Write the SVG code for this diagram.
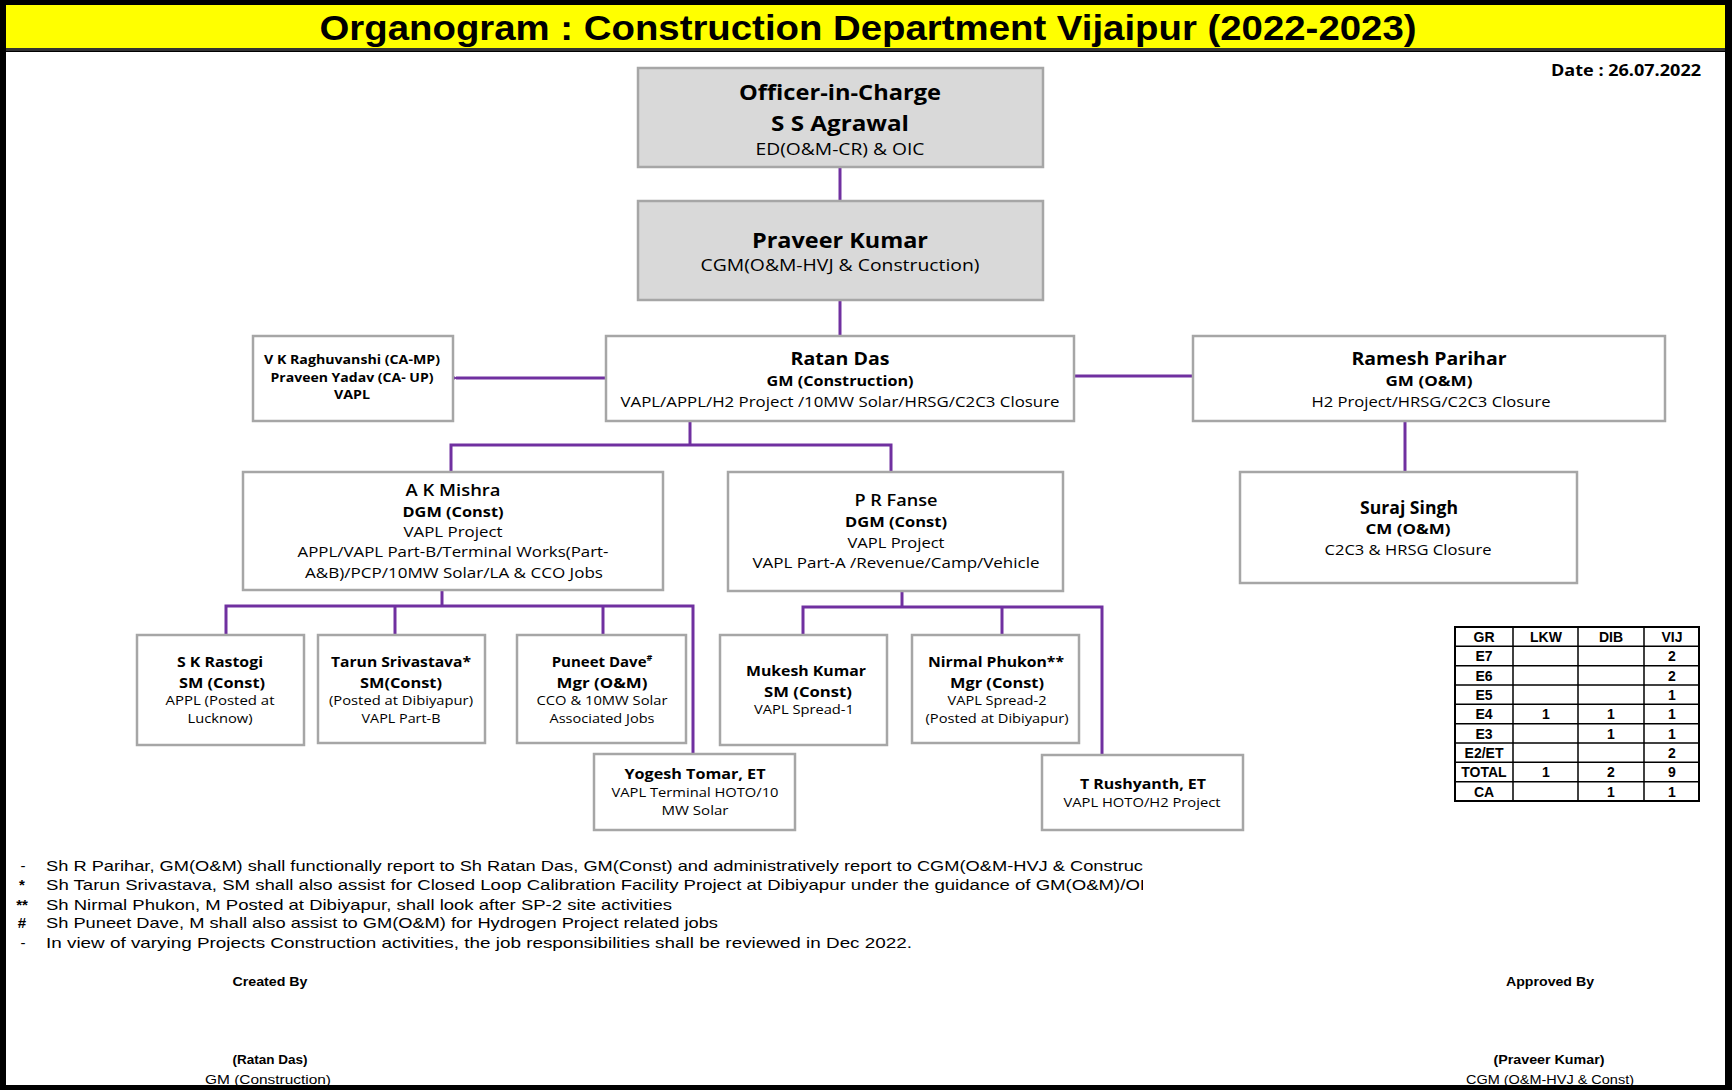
<svg xmlns="http://www.w3.org/2000/svg" width="1732" height="1090" viewBox="0 0 1732 1090">
<style>
.box{fill:#ffffff;stroke:#a6a6a6;stroke-width:2.5}
.gbox{fill:#d9d9d9;stroke:#a6a6a6;stroke-width:2.5}
.t{font-family:"Open Sans","Liberation Sans",sans-serif;fill:#000;text-anchor:middle}
.b{font-weight:bold}
.sb{font-weight:600}
.con{fill:none;stroke:#7030a0;stroke-width:3}
.n{font-family:"Liberation Sans",Arial,sans-serif;font-size:15px;fill:#000}
.tb{font-family:"Liberation Sans",Arial,sans-serif;font-size:14px;font-weight:bold;fill:#000;text-anchor:middle}
.grid{stroke:#000;stroke-width:1.5}
</style>
<defs>
<marker id="ah" viewBox="0 0 8 8" refX="1" refY="4" markerWidth="4" markerHeight="4" orient="auto-start-reverse">
<path d="M8,0 L0,4 L8,8 z" fill="#7030a0"/>
</marker>
<clipPath id="noteclip"><rect x="0" y="840" width="1143" height="120"/></clipPath>
</defs>
<rect x="0" y="0" width="1732" height="1090" fill="#000"/>
<rect x="6" y="52" width="1719" height="1033" fill="#fff"/>
<rect x="6" y="5" width="1719" height="43" fill="#ffff00"/>
<rect x="6" y="48" width="1719" height="3" fill="#333"/>
<text x="868" y="40" font-family="Liberation Sans,Arial,sans-serif" font-size="35" font-weight="bold" text-anchor="middle" textLength="1097" lengthAdjust="spacingAndGlyphs">Organogram : Construction Department Vijaipur (2022-2023)</text>
<text x="1626" y="76" font-family="Open Sans,Liberation Sans,sans-serif" font-size="16" font-weight="bold" text-anchor="middle" textLength="150" lengthAdjust="spacingAndGlyphs">Date : 26.07.2022</text>

<g id="connectors">
<path class="con" d="M840,167 V201"/>
<path class="con" d="M840,300 V336"/>
<path class="con" d="M606,378 H456" marker-end="url(#ah)"/>
<path class="con" d="M1074,376 H1193"/>
<path class="con" d="M1405,421 V472"/>
<path class="con" d="M690,421 V445"/>
<path class="con" d="M451,472 V445 H891 V472"/>
<path class="con" d="M442,590 V606"/>
<path class="con" d="M226,635 V606 H693 V754"/>
<path class="con" d="M395,606 V635"/>
<path class="con" d="M603,606 V635"/>
<path class="con" d="M902,591 V607"/>
<path class="con" d="M803,635 V607 H1102 V755"/>
<path class="con" d="M1002,607 V635"/>
</g>

<g id="oic">
<rect class="gbox" x="638" y="68" width="405" height="99"/>
<text class="t b" x="840" y="100" font-size="21" textLength="202" lengthAdjust="spacingAndGlyphs">Officer-in-Charge</text>
<text class="t b" x="840" y="131" font-size="21" textLength="138" lengthAdjust="spacingAndGlyphs">S S Agrawal</text>
<text class="t" x="840" y="155" font-size="16" textLength="169" lengthAdjust="spacingAndGlyphs">ED(O&amp;M-CR) &amp; OIC</text>
</g>

<g id="praveer">
<rect class="gbox" x="638" y="201" width="405" height="99"/>
<text class="t b" x="840" y="248" font-size="21" textLength="176" lengthAdjust="spacingAndGlyphs">Praveer Kumar</text>
<text class="t" x="840" y="271" font-size="17" textLength="279" lengthAdjust="spacingAndGlyphs">CGM(O&amp;M-HVJ &amp; Construction)</text>
</g>

<g id="ratan">
<rect class="box" x="606" y="336" width="468" height="85"/>
<text class="t b" x="840" y="365" font-size="18" textLength="99" lengthAdjust="spacingAndGlyphs">Ratan Das</text>
<text class="t b" x="840" y="386" font-size="15" textLength="147" lengthAdjust="spacingAndGlyphs">GM (Construction)</text>
<text class="t" x="840" y="407" font-size="15" textLength="439" lengthAdjust="spacingAndGlyphs">VAPL/APPL/H2 Project /10MW Solar/HRSG/C2C3 Closure</text>
</g>

<g id="vk">
<rect class="box" x="253" y="336" width="200" height="85"/>
<text class="t b" x="352" y="364" font-size="12.5" textLength="176" lengthAdjust="spacingAndGlyphs">V K Raghuvanshi (CA-MP)</text>
<text class="t b" x="352" y="382" font-size="12.5" textLength="163" lengthAdjust="spacingAndGlyphs">Praveen Yadav (CA- UP)</text>
<text class="t b" x="352" y="399" font-size="12.5" textLength="36" lengthAdjust="spacingAndGlyphs">VAPL</text>
</g>

<g id="ramesh">
<rect class="box" x="1193" y="336" width="472" height="85"/>
<text class="t b" x="1429" y="365" font-size="18" textLength="155" lengthAdjust="spacingAndGlyphs">Ramesh Parihar</text>
<text class="t b" x="1429" y="386" font-size="15" textLength="87" lengthAdjust="spacingAndGlyphs">GM (O&amp;M)</text>
<text class="t" x="1431" y="407" font-size="15" textLength="239" lengthAdjust="spacingAndGlyphs">H2 Project/HRSG/C2C3 Closure</text>
</g>

<g id="suraj">
<rect class="box" x="1240" y="472" width="337" height="111"/>
<text class="t b" x="1409" y="514" font-size="17" textLength="98" lengthAdjust="spacingAndGlyphs">Suraj Singh</text>
<text class="t b" x="1408" y="534" font-size="15" textLength="85" lengthAdjust="spacingAndGlyphs">CM (O&amp;M)</text>
<text class="t" x="1408" y="555" font-size="15" textLength="167" lengthAdjust="spacingAndGlyphs">C2C3 &amp; HRSG Closure</text>
</g>

<g id="akmishra">
<rect class="box" x="243" y="472" width="420" height="118"/>
<text class="t sb" x="453" y="496" font-size="17" textLength="95" lengthAdjust="spacingAndGlyphs">A K Mishra</text>
<text class="t b" x="453" y="517" font-size="15" textLength="101" lengthAdjust="spacingAndGlyphs">DGM (Const)</text>
<text class="t" x="453" y="537" font-size="15" textLength="99" lengthAdjust="spacingAndGlyphs">VAPL Project</text>
<text class="t" x="453" y="557" font-size="15" textLength="311" lengthAdjust="spacingAndGlyphs">APPL/VAPL Part-B/Terminal Works(Part-</text>
<text class="t" x="454" y="578" font-size="15" textLength="298" lengthAdjust="spacingAndGlyphs">A&amp;B)/PCP/10MW Solar/LA &amp; CCO Jobs</text>
</g>

<g id="prfanse">
<rect class="box" x="728" y="472" width="335" height="119"/>
<text class="t sb" x="896" y="506" font-size="17" textLength="83" lengthAdjust="spacingAndGlyphs">P R Fanse</text>
<text class="t b" x="896" y="527" font-size="15" textLength="102" lengthAdjust="spacingAndGlyphs">DGM (Const)</text>
<text class="t" x="896" y="548" font-size="15" textLength="97" lengthAdjust="spacingAndGlyphs">VAPL Project</text>
<text class="t" x="896" y="568" font-size="15" textLength="287" lengthAdjust="spacingAndGlyphs">VAPL Part-A /Revenue/Camp/Vehicle</text>
</g>

<g id="skrastogi">
<rect class="box" x="137" y="635" width="167" height="110"/>
<text class="t b" x="220" y="667" font-size="14" textLength="86" lengthAdjust="spacingAndGlyphs">S K Rastogi</text>
<text class="t b" x="222" y="688" font-size="14" textLength="86" lengthAdjust="spacingAndGlyphs">SM (Const)</text>
<text class="t" x="220" y="705" font-size="12.5" textLength="109" lengthAdjust="spacingAndGlyphs">APPL  (Posted at</text>
<text class="t" x="220" y="723" font-size="12.5" textLength="65" lengthAdjust="spacingAndGlyphs">Lucknow)</text>
</g>

<g id="tarun">
<rect class="box" x="318" y="635" width="167" height="108"/>
<text class="t b" x="401" y="667" font-size="14" textLength="140" lengthAdjust="spacingAndGlyphs">Tarun Srivastava*</text>
<text class="t b" x="401" y="688" font-size="14" textLength="82" lengthAdjust="spacingAndGlyphs">SM(Const)</text>
<text class="t" x="401" y="705" font-size="12.5" textLength="144" lengthAdjust="spacingAndGlyphs">(Posted at Dibiyapur)</text>
<text class="t" x="401" y="723" font-size="12.5" textLength="79" lengthAdjust="spacingAndGlyphs">VAPL Part-B</text>
</g>

<g id="puneet">
<rect class="box" x="517" y="635" width="169" height="108"/>
<text class="t b" x="602" y="667" font-size="15">Puneet Dave<tspan font-size="9" dy="-6">#</tspan></text>
<text class="t b" x="602" y="688" font-size="14" textLength="91" lengthAdjust="spacingAndGlyphs">Mgr (O&amp;M)</text>
<text class="t" x="602" y="705" font-size="12.5" textLength="131" lengthAdjust="spacingAndGlyphs">CCO &amp; 10MW Solar</text>
<text class="t" x="602" y="723" font-size="12.5" textLength="105" lengthAdjust="spacingAndGlyphs">Associated Jobs</text>
</g>

<g id="yogesh">
<rect class="box" x="594" y="754" width="201" height="76"/>
<text class="t b" x="695" y="779" font-size="14" textLength="141" lengthAdjust="spacingAndGlyphs">Yogesh Tomar, ET</text>
<text class="t" x="695" y="797" font-size="12.5" textLength="167" lengthAdjust="spacingAndGlyphs">VAPL Terminal HOTO/10</text>
<text class="t" x="695" y="815" font-size="12.5" textLength="67" lengthAdjust="spacingAndGlyphs">MW Solar</text>
</g>

<g id="mukesh">
<rect class="box" x="720" y="635" width="167" height="110"/>
<text class="t b" x="806" y="676" font-size="14" textLength="120" lengthAdjust="spacingAndGlyphs">Mukesh Kumar</text>
<text class="t b" x="808" y="697" font-size="14" textLength="88" lengthAdjust="spacingAndGlyphs">SM (Const)</text>
<text class="t" x="804" y="714" font-size="12.5" textLength="100" lengthAdjust="spacingAndGlyphs">VAPL Spread-1</text>
</g>

<g id="nirmal">
<rect class="box" x="912" y="635" width="167" height="108"/>
<text class="t b" x="996" y="667" font-size="14" textLength="136" lengthAdjust="spacingAndGlyphs">Nirmal Phukon**</text>
<text class="t b" x="997" y="688" font-size="14" textLength="94" lengthAdjust="spacingAndGlyphs">Mgr (Const)</text>
<text class="t" x="997" y="705" font-size="12.5" textLength="99" lengthAdjust="spacingAndGlyphs">VAPL Spread-2</text>
<text class="t" x="997" y="723" font-size="12.5" textLength="143" lengthAdjust="spacingAndGlyphs">(Posted at Dibiyapur)</text>
</g>

<g id="rushyanth">
<rect class="box" x="1042" y="755" width="201" height="75"/>
<text class="t b" x="1143" y="789" font-size="14" textLength="126" lengthAdjust="spacingAndGlyphs">T Rushyanth, ET</text>
<text class="t" x="1142" y="807" font-size="12.5" textLength="157" lengthAdjust="spacingAndGlyphs">VAPL HOTO/H2 Project</text>
</g>

<g id="table">
<rect x="1455" y="627" width="244" height="174" fill="#fff" stroke="#000" stroke-width="2"/>
<g class="grid">
<line x1="1513" y1="627" x2="1513" y2="801"/>
<line x1="1578" y1="627" x2="1578" y2="801"/>
<line x1="1644" y1="627" x2="1644" y2="801"/>
<line x1="1455" y1="646.3" x2="1699" y2="646.3"/>
<line x1="1455" y1="665.7" x2="1699" y2="665.7"/>
<line x1="1455" y1="685" x2="1699" y2="685"/>
<line x1="1455" y1="704.3" x2="1699" y2="704.3"/>
<line x1="1455" y1="723.7" x2="1699" y2="723.7"/>
<line x1="1455" y1="743" x2="1699" y2="743"/>
<line x1="1455" y1="762.3" x2="1699" y2="762.3"/>
<line x1="1455" y1="781.7" x2="1699" y2="781.7"/>
</g>
<text class="tb" x="1484" y="642">GR</text><text class="tb" x="1546" y="642">LKW</text><text class="tb" x="1611" y="642">DIB</text><text class="tb" x="1672" y="642">VIJ</text>
<text class="tb" x="1484" y="661">E7</text><text class="tb" x="1672" y="661">2</text>
<text class="tb" x="1484" y="681">E6</text><text class="tb" x="1672" y="681">2</text>
<text class="tb" x="1484" y="700">E5</text><text class="tb" x="1672" y="700">1</text>
<text class="tb" x="1484" y="719">E4</text><text class="tb" x="1546" y="719">1</text><text class="tb" x="1611" y="719">1</text><text class="tb" x="1672" y="719">1</text>
<text class="tb" x="1484" y="739">E3</text><text class="tb" x="1611" y="739">1</text><text class="tb" x="1672" y="739">1</text>
<text class="tb" x="1484" y="758">E2/ET</text><text class="tb" x="1672" y="758">2</text>
<text class="tb" x="1484" y="777">TOTAL</text><text class="tb" x="1546" y="777">1</text><text class="tb" x="1611" y="777">2</text><text class="tb" x="1672" y="777">9</text>
<text class="tb" x="1484" y="797">CA</text><text class="tb" x="1611" y="797">1</text><text class="tb" x="1672" y="797">1</text>
</g>

<g id="notes">
<text class="n" x="23" y="871" text-anchor="middle">-</text>
<text class="n" x="22" y="890" text-anchor="middle" font-weight="bold">*</text>
<text class="n" x="22" y="910" text-anchor="middle" font-weight="bold">**</text>
<text class="n" x="22" y="928" text-anchor="middle" font-weight="bold">#</text>
<text class="n" x="23" y="948" text-anchor="middle">-</text>
<g clip-path="url(#noteclip)">
<text class="n" x="46" y="871" textLength="1097" lengthAdjust="spacingAndGlyphs">Sh R Parihar, GM(O&amp;M) shall functionally report to Sh Ratan Das, GM(Const) and administratively report to CGM(O&amp;M-HVJ &amp; Construc</text>
<text class="n" x="46" y="890" textLength="1099" lengthAdjust="spacingAndGlyphs">Sh Tarun Srivastava, SM shall also assist  for Closed Loop Calibration Facility Project at Dibiyapur under the guidance of GM(O&amp;M)/OI</text>
</g>
<text class="n" x="46" y="910" textLength="626" lengthAdjust="spacingAndGlyphs">Sh Nirmal Phukon, M Posted at Dibiyapur, shall look after SP-2 site activities</text>
<text class="n" x="46" y="928" textLength="672" lengthAdjust="spacingAndGlyphs">Sh Puneet Dave, M shall also assist to GM(O&amp;M) for Hydrogen Project related jobs</text>
<text class="n" x="46" y="948" textLength="866" lengthAdjust="spacingAndGlyphs">In view of varying  Projects  Construction activities, the job responsibilities shall be reviewed in Dec 2022.</text>
</g>

<g id="footer">
<text x="270" y="986" font-family="Liberation Sans,Arial,sans-serif" font-size="13" font-weight="bold" text-anchor="middle" textLength="75" lengthAdjust="spacingAndGlyphs">Created By</text>
<text x="1550" y="986" font-family="Liberation Sans,Arial,sans-serif" font-size="13" font-weight="bold" text-anchor="middle" textLength="88" lengthAdjust="spacingAndGlyphs">Approved By</text>
<text x="270" y="1064" font-family="Liberation Sans,Arial,sans-serif" font-size="13" font-weight="bold" text-anchor="middle" textLength="75" lengthAdjust="spacingAndGlyphs">(Ratan Das)</text>
<text x="1549" y="1064" font-family="Liberation Sans,Arial,sans-serif" font-size="13" font-weight="bold" text-anchor="middle" textLength="111" lengthAdjust="spacingAndGlyphs">(Praveer Kumar)</text>
<text x="268" y="1084" font-family="Liberation Sans,Arial,sans-serif" font-size="13" text-anchor="middle" textLength="126" lengthAdjust="spacingAndGlyphs">GM (Construction)</text>
<text x="1550" y="1084" font-family="Liberation Sans,Arial,sans-serif" font-size="13" text-anchor="middle" textLength="168" lengthAdjust="spacingAndGlyphs">CGM (O&amp;M-HVJ &amp; Const)</text>
</g>
<rect x="0" y="1085" width="1732" height="5" fill="#000"/>
</svg>
